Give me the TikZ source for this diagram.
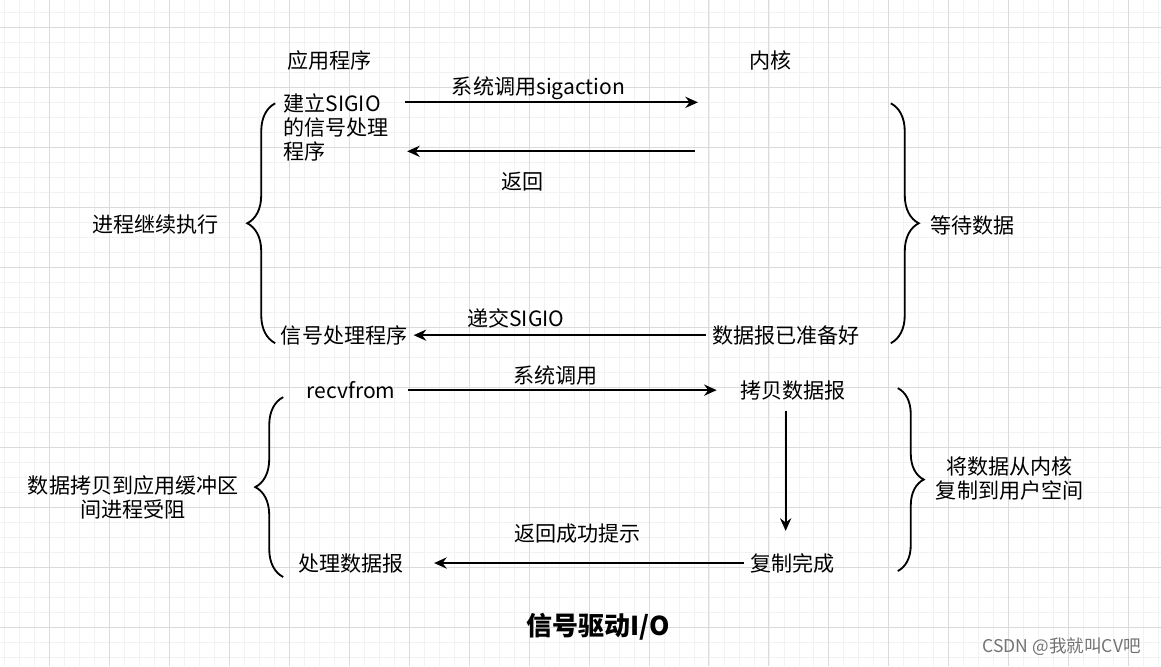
\documentclass[tikz,border=0pt]{standalone}
\usepackage{fontspec}
\setmainfont{Noto Sans CJK SC}
\usepackage{tikz}
\usetikzlibrary{arrows.meta}
\usetikzlibrary{decorations.pathreplacing}
\tikzset{txt/.style={inner sep=0.15cm, font=\fontsize{15}{17}\selectfont, align=center}}
\tikzset{lbl/.style={inner sep=0pt, font=\fontsize{15}{17}\selectfont}}
\tikzset{arr/.style={-{Stealth[length=9pt,width=8pt,inset=3pt]}, line width=1.3pt}}
\tikzset{bracebox/.style={decorate, decoration={brace, amplitude=0.7cm}, line width=1.3pt}}
\tikzset{minorgrid/.style={draw=gray!10, line width=0.5pt}}
\tikzset{majorgrid/.style={draw=gray!28, line width=0.6pt}}

\begin{document}
\begin{tikzpicture}

\fill[white] (0,0) rectangle (29.025,16.65);
\foreach \i in {0,...,77} \draw[minorgrid] ({0.1+0.375*\i},0) -- ++(0,16.65);
\foreach \i in {0,...,43} \draw[minorgrid] (0,{0.225+0.375*\i}) -- ++(29.025,0);
\foreach \i in {0,...,18} \draw[majorgrid] ({1.225+1.5*\i},0) -- ++(0,16.65);
\foreach \i in {0,...,10} \draw[majorgrid] (0,{0.975+1.5*\i}) -- ++(29.025,0);
\useasboundingbox (0,0) rectangle (29.025,16.65);

\node[txt] (app) at (8.225, 15.15) {应用程序};
\node[txt] (kern) at (19.275, 15.15) {内核};

\node[txt, align=left] (setup) at (8.4, 13.475) {建立SIGIO\\的信号处理\\程序};
\coordinate (k1) at (17.45, 14.1);
\coordinate (k2) at (17.375, 12.875);

\node[txt] (handler) at (8.6, 8.275) {信号处理程序};
\node[txt] (ready) at (19.65, 8.275) {数据报已准备好};

\node[txt] (recv) at (8.775, 6.9) {recvfrom};
\node[txt] (copy) at (19.825, 6.9) {拷贝数据报};
\node[txt] (done) at (19.825, 2.575) {复制完成};
\node[txt] (proc) at (8.775, 2.575) {处理数据报};

\node[txt] (cont) at (3.875, 11.05) {进程继续执行};
\node[txt] (wait) at (24.325, 11.025) {等待数据};
\node[txt] (block) at (3.325, 4.225) {数据拷贝到应用缓冲区\\间进程受阻};
\node[txt] (tocopy) at (25.25, 4.7) {将数据从内核\\复制到用户空间};

\node[font=\bfseries\fontsize{18.5}{20}\selectfont] (title) at (14.95, 0.975) {信号驱动I/O};
\node[font=\fontsize{12.5}{14}\selectfont, text=black!55] (mark) at (26.55, 0.475) {CSDN @我就叫CV吧};

\draw[arr, shorten <=0.25cm] (setup.east |- k1) -- (k1) node[lbl, midway, above=0.04cm, xshift=-0.2cm] {系统调用sigaction};
\draw[arr, shorten >=0.3cm] (k2) -- (setup.east |- k2) node[lbl, midway, below=0.49cm, xshift=-0.57cm] {返回};
\draw[arr] (ready.west) -- (handler.east) node[lbl, midway, above=0.16cm, xshift=-1.1cm] {递交SIGIO};
\draw[arr, shorten <=0.15cm, shorten >=0.43cm] (recv.east) -- (copy.west) node[lbl, midway, above=0.09cm, xshift=-0.3cm] {系统调用};
\draw[arr, shorten <=0.12cm, shorten >=0.4cm] ([xshift=-0.18cm]copy.south) -- ([xshift=-0.18cm]done.north);
\draw[arr, shorten >=0.6cm] (done.west) -- (proc.east) node[lbl, midway, above=0.46cm] {返回成功提示};

\draw[bracebox] (6.875, 8.075) -- (6.875, 14.075);
\draw[bracebox] (22.275, 14.075) -- (22.275, 8.075);
\draw[bracebox] (7.075, 2.225) -- (7.075, 6.725);
\draw[bracebox, decoration={amplitude=0.65cm}] (22.45, 6.95) -- (22.45, 2.375);

\end{tikzpicture}
\end{document}
